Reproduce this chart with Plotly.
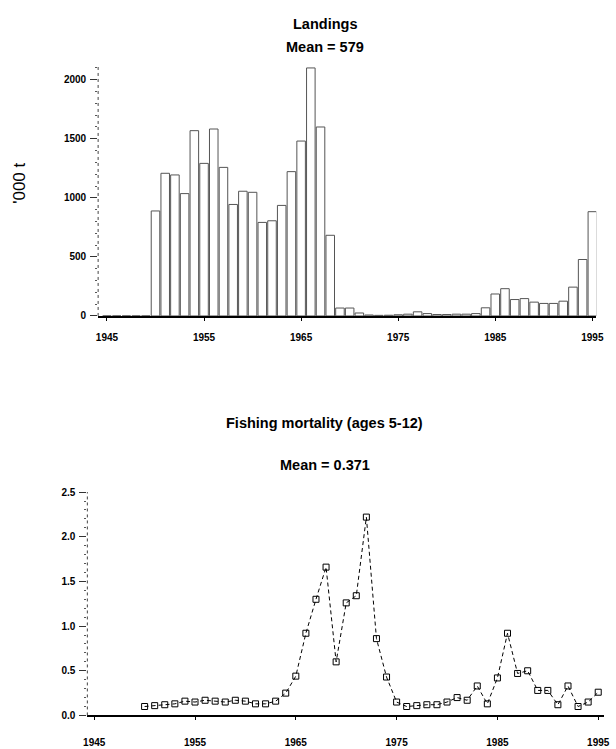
import plotly.graph_objects as go

# ---------------- data ----------------
years_landings = [1945, 1946, 1947, 1948, 1949, 1950, 1951, 1952, 1953, 1954,
                  1955, 1956, 1957, 1958, 1959, 1960, 1961, 1962, 1963, 1964,
                  1965, 1966, 1967, 1968, 1969, 1970, 1971, 1972, 1973, 1974,
                  1975, 1976, 1977, 1978, 1979, 1980, 1981, 1982, 1983, 1984,
                  1985, 1986, 1987, 1988, 1989, 1990, 1991, 1992, 1993, 1994,
                  1995]
landings = [0, 0, 0, 0, 0, 889, 1208, 1194, 1036, 1569,
            1292, 1583, 1258, 944, 1056, 1047, 792, 806, 936, 1222,
            1481, 2100, 1600, 683, 67, 67, 25, 8, 5, 6,
            10, 15, 35, 20, 12, 12, 15, 15, 20, 69,
            186, 231, 139, 147, 117, 106, 106, 125, 244, 478,
            883]

years_f = [1950, 1951, 1952, 1953, 1954, 1955, 1956, 1957, 1958, 1959,
           1960, 1961, 1962, 1963, 1964, 1965, 1966, 1967, 1968, 1969,
           1970, 1971, 1972, 1973, 1974, 1975, 1976, 1977, 1978, 1979,
           1980, 1981, 1982, 1983, 1984, 1985, 1986, 1987, 1988, 1989,
           1990, 1991, 1992, 1993, 1994, 1995]
fishing_mortality = [0.10, 0.11, 0.12, 0.13, 0.16, 0.15, 0.17, 0.16, 0.15, 0.17,
                     0.16, 0.13, 0.13, 0.16, 0.25, 0.44, 0.92, 1.30, 1.66, 0.60,
                     1.26, 1.34, 2.22, 0.86, 0.43, 0.15, 0.10, 0.11, 0.12, 0.12,
                     0.15, 0.20, 0.17, 0.33, 0.13, 0.42, 0.92, 0.47, 0.50, 0.28,
                     0.28, 0.12, 0.33, 0.10, 0.15, 0.26]

title_top = ["Landings", "Mean = 579"]
title_bottom = ["Fishing mortality (ages 5-12)", "Mean = 0.371"]
y_title_top = "'000 t"

# ---------------- figure ----------------
W, H = 616, 749
FONT = "Arial, Liberation Sans, sans-serif"


def py(px):
    return 1 - px / H


def px_x(px):
    return px / W


top_dom_x = [px_x(96), px_x(604)]
top_dom_y = [py(315), py(62)]
bot_dom_x = [px_x(85), px_x(612)]
bot_dom_y = [py(721), py(494)]

fig = go.Figure()

fig.add_trace(go.Bar(
    x=years_landings, y=landings, xaxis="x", yaxis="y",
    marker=dict(color="white", line=dict(color="#555555", width=1)),
    width=0.88, showlegend=False,
))

fig.add_trace(go.Scatter(
    x=years_f, y=fishing_mortality, xaxis="x2", yaxis="y2",
    mode="lines+markers",
    line=dict(color="black", width=1, dash="4px,3px"),
    marker=dict(symbol="square-open", size=6, color="black",
                line=dict(color="black", width=1)),
    showlegend=False,
))

tickfont = dict(family=FONT, size=10, color="black", weight="bold")

fig.update_layout(
    width=W, height=H,
    margin=dict(l=0, r=0, t=0, b=0),
    paper_bgcolor="white", plot_bgcolor="white",
    font=dict(family=FONT, color="black"),
    bargap=0.1,
    xaxis=dict(domain=top_dom_x, range=[1944.09, 1995.4], anchor="y",
               tick0=1945, dtick=10, ticks="outside", ticklen=3,
               tickcolor="black", showline=True, linecolor="black",
               linewidth=1.5, showgrid=False, zeroline=False,
               tickfont=tickfont, ticklabelstandoff=8),
    yaxis=dict(domain=top_dom_y, range=[0, 2108], anchor="x",
               tick0=0, dtick=500, ticks="outside", ticklen=7,
               tickcolor="#333", showline=False, showgrid=False,
               zeroline=False, tickfont=tickfont, ticklabelstandoff=2,
               minor=dict(dtick=100, ticks="outside", ticklen=2,
                          tickcolor="#555")),
    xaxis2=dict(domain=bot_dom_x, range=[1944.32, 1995.58], anchor="y2",
                tick0=1945, dtick=10, ticks="outside", ticklen=3,
                tickcolor="black", showline=True, linecolor="black",
                linewidth=1.5, showgrid=False, zeroline=False,
                tickfont=tickfont, ticklabelstandoff=14),
    yaxis2=dict(domain=bot_dom_y, range=[0, 2.5], anchor="x2",
                tick0=0, dtick=0.5, tickformat=".1f", ticks="outside",
                ticklen=7, tickcolor="#333", showline=False, showgrid=False,
                zeroline=False, tickfont=tickfont, ticklabelstandoff=2,
                minor=dict(dtick=0.1, ticks="outside", ticklen=2,
                           tickcolor="#555")),
)

# dotted vertical axis lines
for dx, dy in [(top_dom_x, top_dom_y), (bot_dom_x, bot_dom_y)]:
    fig.add_shape(type="line", xref="paper", yref="paper",
                  x0=dx[0], x1=dx[0], y0=dy[0], y1=dy[1],
                  line=dict(color="#444", width=1, dash="dot"))

title_font = dict(family=FONT, size=14.5, color="black", weight="bold")
cx = px_x(327)
annots = [
    dict(text=title_top[0], x=cx, y=py(18)),
    dict(text=title_top[1], x=cx, y=py(42)),
    dict(text=title_bottom[0], x=cx, y=py(424)),
    dict(text=title_bottom[1], x=cx, y=py(466)),
]
for a in annots:
    fig.add_annotation(text=a["text"], x=a["x"], y=a["y"], xref="paper",
                       yref="paper", showarrow=False, font=title_font,
                       xanchor="center", yanchor="middle")

fig.add_annotation(text=y_title_top, x=px_x(15), y=py(180), xref="paper",
                   yref="paper", showarrow=False, textangle=-90,
                   font=dict(family=FONT, size=17, color="black"),
                   xanchor="center", yanchor="middle")

fig.write_html("out.html")
